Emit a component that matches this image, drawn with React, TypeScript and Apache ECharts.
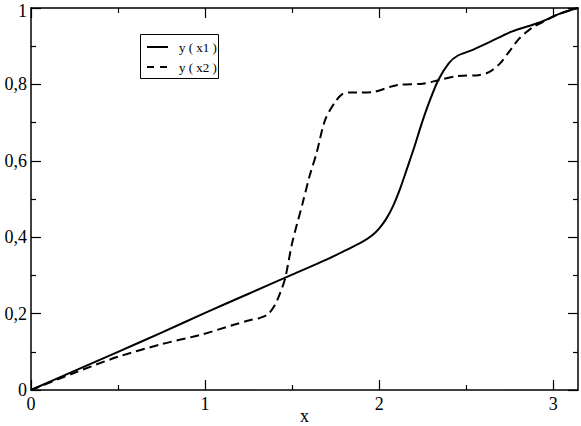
import React, { useEffect, useRef } from "react";
import * as echarts from "echarts";

const x1Values = [0, 0.25, 0.5, 0.75, 1.0, 1.25, 1.5, 1.7, 1.8, 1.9, 1.96, 2.0, 2.04, 2.08, 2.12, 2.16, 2.2, 2.24, 2.28, 2.34, 2.4, 2.45, 2.53, 2.63, 2.76, 2.92, 3.03, Math.PI];
const y1Values = [0, 0.05, 0.1, 0.15, 0.202, 0.252, 0.302, 0.342, 0.364, 0.387, 0.405, 0.423, 0.448, 0.482, 0.527, 0.58, 0.634, 0.692, 0.745, 0.812, 0.856, 0.875, 0.889, 0.91, 0.938, 0.962, 0.984, 1.0];

const x2Values = [0, 0.25, 0.5, 0.75, 0.97, 1.16, 1.25, 1.31, 1.36, 1.4, 1.43, 1.46, 1.5, 1.56, 1.6, 1.64, 1.69, 1.75, 1.79, 1.83, 1.89, 1.96, 2.1, 2.25, 2.34, 2.45, 2.57, 2.63, 2.69, 2.75, 2.8, 2.88, 2.96, 3.03, Math.PI];
const y2Values = [0, 0.045, 0.087, 0.12, 0.144, 0.17, 0.182, 0.188, 0.198, 0.222, 0.253, 0.293, 0.385, 0.489, 0.56, 0.62, 0.708, 0.756, 0.775, 0.779, 0.779, 0.78, 0.798, 0.802, 0.811, 0.822, 0.824, 0.832, 0.853, 0.888, 0.918, 0.949, 0.968, 0.984, 1.0];

const xMajorTicks = [0, 1, 2, 3];
const xMinorTicks = [0.5, 1.5, 2.5];
const seriesNames = ["y ( x1 )", "y ( x2 )"];
const xAxisName = "x";

const FONT = "Liberation Serif";

export default function App() {
  const ref = useRef<HTMLDivElement>(null);
  useEffect(() => {
    if (!ref.current) return;
    const chart = echarts.init(ref.current, null, { renderer: "svg" });
    const lineAxis = { show: true, onZero: false, lineStyle: { color: "#000", width: 1.5 } };
    const baseX = { type: "value", min: 0, max: Math.PI, splitLine: { show: false } };
    const baseY = { type: "value", min: 0, max: 1, interval: 0.2, splitLine: { show: false } };
    const data1 = x1Values.map((x, i) => [x, y1Values[i]]);
    const data2 = x2Values.map((x, i) => [x, y2Values[i]]);
    chart.setOption({
      animation: false,
      backgroundColor: "#fff",
      textStyle: { fontFamily: FONT },
      grid: { left: 31, right: 3, top: 8, bottom: 36, containLabel: false, outerBoundsMode: "none" },
      xAxis: [
        {
          ...baseX,
          position: "bottom",
          name: xAxisName,
          nameLocation: "middle",
          nameGap: 17,
          nameMoveOverlap: false,
          nameTextStyle: { fontFamily: FONT, fontSize: 18, color: "#000" },
          axisLine: lineAxis,
          axisTick: { show: true, inside: true, length: 10, customValues: xMajorTicks, lineStyle: { color: "#000", width: 1.2 } },
          axisLabel: { show: true, customValues: xMajorTicks, margin: 5, fontFamily: FONT, fontSize: 18, color: "#000" },
        },
        {
          ...baseX,
          position: "bottom",
          axisLine: { show: false, onZero: false },
          axisTick: { show: true, inside: true, length: 5, customValues: xMinorTicks, lineStyle: { color: "#000", width: 1.2 } },
          axisLabel: { show: false },
        },
        {
          ...baseX,
          position: "top",
          axisLine: lineAxis,
          axisTick: { show: true, inside: true, length: 10, customValues: xMajorTicks, lineStyle: { color: "#000", width: 1.2 } },
          axisLabel: { show: false },
        },
        {
          ...baseX,
          position: "top",
          axisLine: { show: false, onZero: false },
          axisTick: { show: true, inside: true, length: 5, customValues: xMinorTicks, lineStyle: { color: "#000", width: 1.2 } },
          axisLabel: { show: false },
        },
      ],
      yAxis: [
        {
          ...baseY,
          position: "left",
          axisLine: lineAxis,
          axisTick: { show: true, inside: true, length: 10, lineStyle: { color: "#000", width: 1.2 } },
          minorTick: { show: true, splitNumber: 2, length: 5, lineStyle: { color: "#000", width: 1.2 } },
          axisLabel: {
            show: true,
            margin: 4,
            fontFamily: FONT,
            fontSize: 18,
            lineHeight: 15,
            color: "#000",
            formatter: (v: number) => {
              const s = String(Math.round(v * 10) / 10).replace(".", ",");
              return v >= 1 ? `{top|${s}}` : s;
            },
            rich: {
              top: { fontFamily: FONT, fontSize: 18, lineHeight: 15, color: "#000", padding: [6, 0, 0, 0] },
            },
          },
        },
        {
          ...baseY,
          position: "right",
          axisLine: lineAxis,
          axisTick: { show: true, inside: true, length: 10, lineStyle: { color: "#000", width: 1.2 } },
          minorTick: { show: true, splitNumber: 2, length: 5, lineStyle: { color: "#000", width: 1.2 } },
          axisLabel: { show: false },
        },
      ],
      series: [
        {
          name: seriesNames[0],
          type: "line",
          xAxisIndex: 0,
          yAxisIndex: 0,
          data: data1,
          showSymbol: false,
          symbol: "none",
          smooth: 0.3,
          lineStyle: { color: "#000", width: 2 },
        },
        {
          name: seriesNames[1],
          type: "line",
          xAxisIndex: 0,
          yAxisIndex: 0,
          data: data2,
          showSymbol: false,
          symbol: "none",
          smooth: 0.3,
          lineStyle: { color: "#000", width: 2, type: [9, 5] },
        },
      ],
      graphic: [
        {
          type: "rect",
          shape: { x: 140.5, y: 34.5, width: 78, height: 44 },
          style: { fill: "#fff", stroke: "#000", lineWidth: 1 },
          z: 10,
        },
        {
          type: "line",
          shape: { x1: 147, y1: 47, x2: 168, y2: 47 },
          style: { stroke: "#000", lineWidth: 2 },
          z: 11,
        },
        {
          type: "line",
          shape: { x1: 147, y1: 67, x2: 168, y2: 67 },
          style: { stroke: "#000", lineWidth: 2, lineDash: [7, 6] },
          z: 11,
        },
        {
          type: "text",
          x: 179,
          y: 47,
          style: { text: seriesNames[0], fontFamily: FONT, fontSize: 13, fill: "#000", verticalAlign: "middle" },
          z: 11,
        },
        {
          type: "text",
          x: 179,
          y: 67,
          style: { text: seriesNames[1], fontFamily: FONT, fontSize: 13, fill: "#000", verticalAlign: "middle" },
          z: 11,
        },
      ],
    });
    return () => chart.dispose();
  }, []);
  return <div ref={ref} style={{ width: 581, height: 426, position: "absolute", left: 0, top: 0 }} />;
}
